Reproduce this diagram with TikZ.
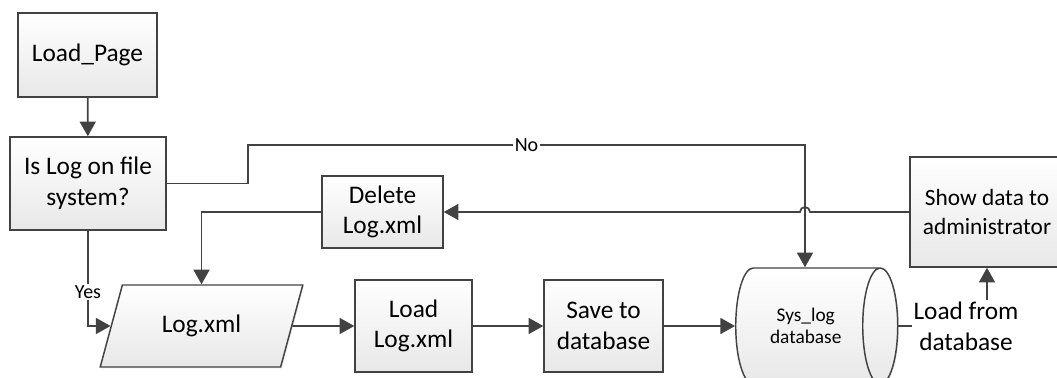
\documentclass[tikz,border=0pt]{standalone}
\usepackage{fontspec}
\setmainfont{Carlito}
\usetikzlibrary{arrows.meta,calc,shadows,shapes.geometric}
\definecolor{edgegray}{HTML}{424242}
\definecolor{fillgray}{HTML}{E8E8E8}
\tikzset{
  proc/.style={draw=edgegray, line width=1.1pt, top color=white, bottom color=fillgray,
    drop shadow={shadow xshift=1pt, shadow yshift=-1pt, fill=black!15},
    align=center, inner sep=1pt, font=\fontsize{19}{23}\selectfont},
  flow/.style={draw=edgegray, line width=1.3pt, -{Triangle[length=11pt,width=12pt]}},
  lbl/.style={fill=white, inner sep=1pt, font=\fontsize{15}{18}\selectfont},
}

\begin{document}
\begin{tikzpicture}[x=0.75pt,y=-0.75pt]
		%%%%% START %%%%%
		\useasboundingbox (0,0) rectangle (1057,378);
		\clip (0,0) rectangle (1057,378);
		
		\node[proc, minimum width=104.25pt, minimum height=63pt] (loadpage) at (87.5,55) {Load\_Page};
		\node[proc, minimum width=117pt, minimum height=69.75pt] (islog) at (88,183.5) {Is Log on file\\system?};
		\node[proc, minimum width=90.75pt, minimum height=54pt] (delete) at (382.5,212) {Delete\\Log.xml};
		\node[proc, trapezium, trapezium left angle=65, trapezium right angle=115, trapezium stretches=true,
		  minimum width=152pt, minimum height=61.5pt] (logxml) at (201.5,326) {Log.xml};
		\node[proc, minimum width=87.75pt, minimum height=69pt] (loadxml) at (413.5,326) {Load\\Log.xml};
		\node[proc, minimum width=89.25pt, minimum height=69pt] (savedb) at (603.5,326) {Save to\\database};
		\node[proc, cylinder, aspect=0.9, minimum width=87pt, minimum height=121.5pt, anchor=west,
		  font=\fontsize{14.5}{17}\selectfont] (syslog) at (735,326) {Sys\_log\\database};
		\node[proc, minimum width=115.5pt, minimum height=82.5pt, font=\fontsize{17.5}{22}\selectfont] (showdata) at (987,212) {Show data to\\administrator};
		
		\coordinate (nocorner) at (805,145);
		\coordinate (hop) at (nocorner |- delete.east);
		
		\draw[flow] (loadpage) -- (islog);
		\draw[flow] (islog.south) |- node[lbl, pos=0.32] {Yes} (logxml.west);
		\draw[flow] (islog.east) -- (248,183.5) -- (248,145) -- node[lbl] {No} (nocorner) -- (nocorner |- syslog.north);
		\draw[flow] (logxml.east) -- (loadxml.west);
		\draw[flow] (loadxml) -- (savedb);
		\draw[flow] (savedb) -- (syslog);
		\draw[flow] (showdata.west) -- ($(hop)+(5,0)$) arc[start angle=0, end angle=180, radius=3.75pt] -- (delete.east);
		\draw[flow] (delete.west) -| (logxml.north);
		\draw[flow] (syslog.east) -| node[lbl, xshift=-15.75pt, font=\fontsize{19}{23}\selectfont, align=center] (fromdb) {Load from\\database} (showdata.south);
		%%%%% END %%%%%
	\end{tikzpicture}
\end{document}
